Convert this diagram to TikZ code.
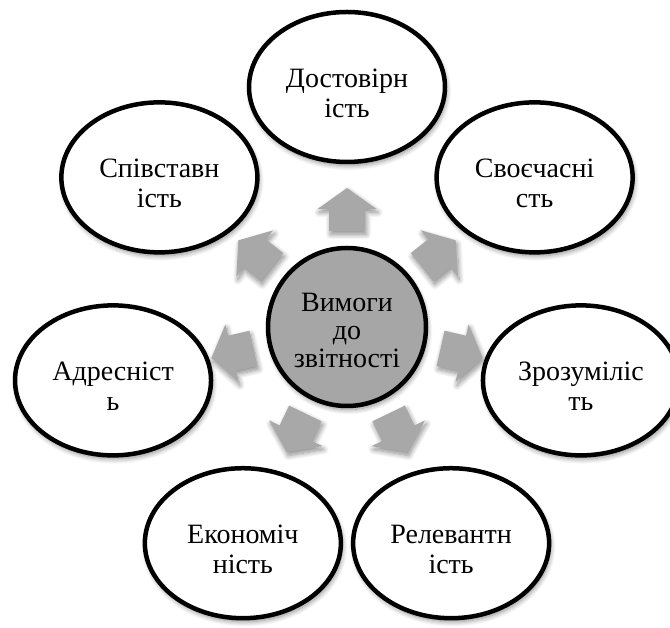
\documentclass[tikz,border=0pt]{standalone}
\usepackage{fontspec}
\setmainfont{Liberation Serif}
\usetikzlibrary{shapes.geometric,shadows.blur,calc}
\definecolor{hubgray}{RGB}{166,166,166}
\definecolor{arrowgray}{RGB}{168,168,168}
\begin{document}
\begin{tikzpicture}[x=1pt,y=1pt,
  soft shadow/.style={blur shadow={shadow xshift=1.5pt, shadow yshift=-3.5pt,
      shadow blur radius=5pt, shadow blur steps=10, shadow opacity=45}},
  itemtext/.style={align=center, inner sep=0pt, yshift=-6pt,
      font=\fontsize{28}{30}\selectfont},
  item/.style={ellipse, draw=black, line width=4.5pt, fill=white,
      minimum width=196pt, minimum height=150pt, inner sep=0pt, soft shadow,
      label={[itemtext]center:#1}},
  hubtext/.style={align=center, inner sep=0pt, yshift=-3pt,
      font=\fontsize{28}{28}\selectfont},
  hub/.style={circle, draw=black, line width=4.5pt, fill=hubgray,
      minimum size=158pt, inner sep=0pt, soft shadow,
      label={[hubtext]center:#1}},
  blockarrow/.style={fill=arrowgray, draw=none, soft shadow}]
\useasboundingbox (0,0) rectangle (670,628);
\coordinate (c) at (347,301);

% outward block arrows around the hub
\foreach \a in {90,38.571,-12.857,-64.286,-115.714,-167.143,141.429}{
  \fill[blockarrow]
    ($(c)+(\a:96pt)+(\a-90:18pt)$) --
    ($(c)+(\a:118pt)+(\a-90:18pt)$) --
    ($(c)+(\a:118pt)+(\a-90:29.5pt)$) --
    ($(c)+(\a:139pt)$) --
    ($(c)+(\a:118pt)+(\a+90:29.5pt)$) --
    ($(c)+(\a:118pt)+(\a+90:18pt)$) --
    ($(c)+(\a:96pt)+(\a+90:18pt)$) -- cycle;
}

% hub
\node[hub={Вимоги\\до\\звітності}] (hub) at (c) {};

% requirements
\node[item={Достовірн\\ість}] (r1) at ($(c)+(90:240pt)$) {};
\node[item={Своєчасні\\сть}] (r2) at ($(c)+(38.571:240pt)$) {};
\node[item={Зрозуміліс\\ть}] (r3) at ($(c)+(-12.857:240pt)$) {};
\node[item={Релевантн\\ість}] (r4) at ($(c)+(-64.286:240pt)$) {};
\node[item={Економіч\\ність}] (r5) at ($(c)+(-115.714:240pt)$) {};
\node[item={Адресніст\\ь}] (r6) at ($(c)+(-167.143:240pt)$) {};
\node[item={Співставн\\ість}] (r7) at ($(c)+(141.429:240pt)$) {};
\end{tikzpicture}
\end{document}
